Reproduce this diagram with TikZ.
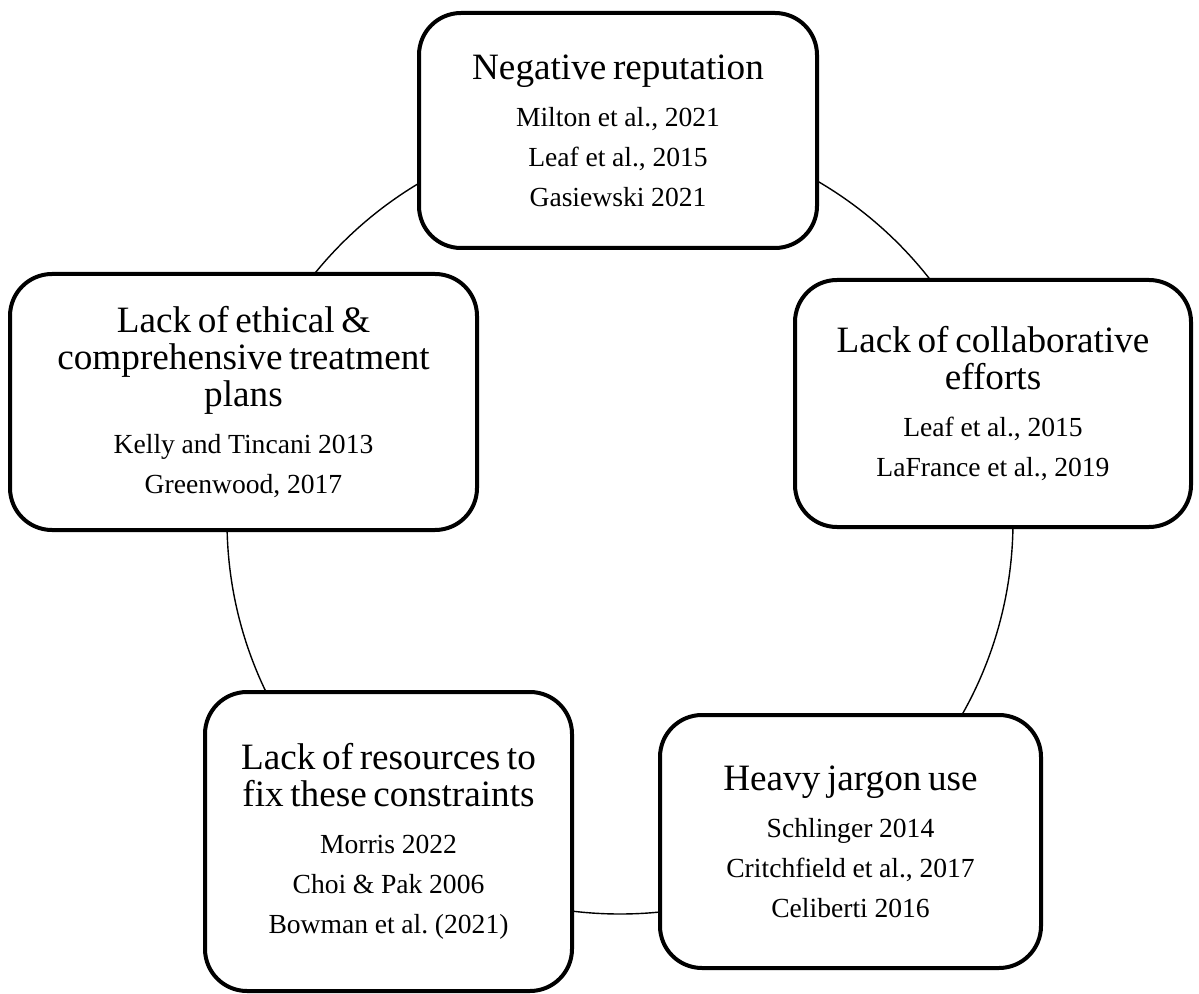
\documentclass[tikz,border=0pt]{standalone}
\usepackage{fontspec}
\setmainfont{Liberation Serif}
\usepackage{tikz}
\usetikzlibrary{positioning}
\frenchspacing
\newcommand\headfont{\fontsize{18.6}{18.4}\selectfont}
\newcommand\reffont{\fontsize{13.8}{20}\selectfont}
\newcommand\cardtext[2]{{\headfont #1\par}\vskip 3.5pt{\reffont #2\par}}
\tikzstyle{card}=[rectangle, draw, fill=white, line width=2pt, rounded corners=21pt, inner sep=0pt, align=center]
\tikzstyle{ring}=[line width=0.7pt]

\begin{document}
\begin{tikzpicture}[%
    x=0.5pt,
    y=-0.5pt
  ]
      \useasboundingbox (0,0) rectangle (1199,994);

      %Cycle ring
      \coordinate (hub) at (620,521);
      \draw[ring] (hub) circle (196.5pt);

      %Constraint cards
      \draw (618,130.5) node[card, minimum width=199pt, minimum height=117.5pt, text width=189pt] (neg)
        {\cardtext{Negative reputation}{Milton et al., 2021\\Leaf et al., 2015\\Gasiewski 2021}};
      \draw (993,403.5) node[card, minimum width=198pt, minimum height=123.5pt, text width=188pt] (collab)
        {\cardtext{Lack of collaborative\\efforts}{Leaf et al., 2015\\LaFrance et al., 2019}};
      \draw (850.5,841.5) node[card, minimum width=190.5pt, minimum height=126.5pt, text width=180pt] (jargon)
        {\cardtext{Heavy jargon use}{Schlinger 2014\\Critchfield et al., 2017\\Celiberti 2016}};
      \draw (388.5,841.5) node[card, minimum width=183.5pt, minimum height=149.5pt, text width=176pt] (resources)
        {\cardtext{Lack of resources to\\fix these constraints}{Morris 2022\\Choi \& Pak 2006\\Bowman et al. (2021)}};
      \draw (243.5,402) node[card, minimum width=233.5pt, minimum height=128pt, text width=226pt] (ethics)
        {\cardtext{Lack of ethical \&\\comprehensive treatment\\plans}{Kelly and Tincani 2013\\Greenwood, 2017}};
    \end{tikzpicture}
\end{document}
